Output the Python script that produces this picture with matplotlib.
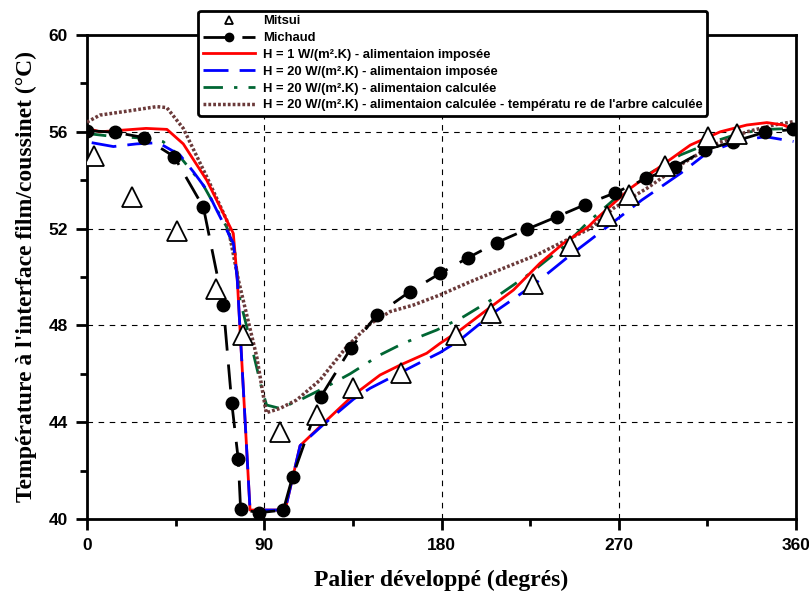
import matplotlib
matplotlib.use("Agg")
import matplotlib.pyplot as plt
from matplotlib.ticker import MultipleLocator

mitsui_x = [3.5, 22.9, 45.7, 65.5, 79.4, 98, 116.6, 135.3, 159.3, 187.4, 205, 226.7, 245, 263.9, 275, 293.6, 315.5, 329.9]
mitsui_y = [55.0, 53.3, 51.9, 49.5, 47.6, 43.6, 44.3, 45.4, 46.05, 47.6, 48.5, 49.7, 51.3, 52.5, 53.4, 54.6, 55.8, 55.9]

michaud_x = [0, 14.2, 29, 44.3, 59.1, 69.2, 73.5, 76.8, 78, 87.5, 99.7, 104.4, 118.7, 133.9, 147.1,
             164, 179.3, 193.6, 208, 223.3, 238.6, 252.9, 268.2, 283.9, 298.6, 313.9, 328.2, 344, 358.7]
michaud_y = [56.05, 55.98, 55.76, 54.97, 52.88, 48.84, 44.8, 42.47, 40.4, 40.26, 40.37, 41.75, 45.05, 47.05, 48.43,
             49.4, 50.15, 50.8, 51.42, 51.97, 52.49, 52.99, 53.48, 54.07, 54.56, 55.25, 55.59, 55.98, 56.1]

h1_x = [0, 6.6, 23.4, 30, 40.6, 48.9, 60.8, 74.3, 76.3, 82.8, 100.6, 108.2, 120, 135.3, 148.8, 159, 172.5,
        179.3, 189.4, 203, 216.5, 230, 241.9, 254.6, 258.8, 275.8, 291, 306.3, 321.5, 335, 345.2, 353.6, 358.7]
h1_y = [56.14, 56.0, 56.1, 56.14, 56.1, 55.5, 54.0, 51.8, 49.9, 40.37, 40.37, 43.03, 43.95, 45.12, 45.95, 46.36, 46.85,
        47.26, 47.8, 48.64, 49.46, 50.57, 51.39, 52.08, 52.42, 53.66, 54.56, 55.45, 56.0, 56.28, 56.38, 56.28, 56.1]

h20_x = [2.4, 13.4, 25.2, 36.2, 47.2, 54, 60.8, 65.8, 74.3, 76.3, 82.8, 100.6, 108.2, 120, 135.3, 143.7, 169,
         179.3, 189.4, 206, 226.7, 245.3, 255.5, 281.7, 301.5, 314.7, 329.9, 344.3, 358.7]
h20_y = [55.55, 55.39, 55.5, 55.55, 55.04, 54.35, 53.6, 52.77, 51.4, 49.9, 40.37, 40.37, 43.03, 43.9, 44.95, 45.4, 46.46,
         46.88, 47.4, 48.5, 49.67, 50.9, 51.53, 53.18, 54.29, 55.12, 55.6, 55.8, 55.6]

calc_x = [0, 11.7, 30.3, 38.7, 47.2, 59, 70.9, 75.2, 77.7, 82.8, 88.7, 91.2, 98, 108.2, 121.7, 133.6, 148.8,
          160.6, 177.6, 191.2, 208, 225, 241.9, 253.8, 267.3, 284.2, 301.2, 318, 331.6, 345.2, 358.7]
calc_y = [55.93, 55.82, 55.73, 55.59, 54.97, 53.8, 52.07, 50.98, 49.05, 47.4, 45.4, 44.71, 44.57, 44.92, 45.47, 46.0, 46.78,
          47.26, 47.81, 48.36, 49.19, 50.15, 51.25, 52.22, 53.18, 54.21, 55.04, 55.59, 55.94, 56.1, 56.14]

arbre_x = [0, 6.6, 21.8, 35.4, 40.5, 48.9, 60.8, 70.9, 76.8, 86.2, 91, 98, 106.5, 118.3, 131.9, 143.7, 153.9,
           165.7, 179.3, 194.5, 211.4, 228.3, 245.3, 255.5, 267.3, 284.2, 301.2, 318, 335, 348.6, 358.7]
arbre_y = [56.4, 56.69, 56.87, 57.04, 57.0, 56.14, 54.14, 52.36, 49.9, 46.7, 44.39, 44.57, 44.92, 45.74, 47.12, 48.06, 48.57,
           48.84, 49.26, 49.8, 50.36, 50.91, 51.6, 52.0, 52.84, 53.66, 54.63, 55.45, 56.0, 56.28, 56.42]

labels = ["Mitsui", "Michaud",
          "H = 1 W/(m².K) - alimentaion imposée",
          "H = 20 W/(m².K) - alimentaion imposée",
          "H = 20 W/(m².K) - alimentaion calculée",
          "H = 20 W/(m².K) - alimentaion calculée - températu re de l'arbre calculée"]
xlabel = "Palier développé (degrés)"
ylabel = "Température à l'interface film/coussinet (°C)"

fig = plt.figure(figsize=(8.09, 5.93), dpi=100)
ax = fig.add_axes([0.1075, 0.1248, 0.8765, 0.8162])

l_mit, = ax.plot(mitsui_x, mitsui_y, linestyle="none", marker="^", markersize=15,
                 markerfacecolor="white", markeredgecolor="black", markeredgewidth=1.3, zorder=6)
l_mic, = ax.plot(michaud_x, michaud_y, color="black", lw=2, marker="o", markersize=9,
                 dashes=(9, 5), zorder=5)
l_h1, = ax.plot(h1_x, h1_y, color="#ff0000", lw=2, zorder=4)
l_h20, = ax.plot(h20_x, h20_y, color="#0000ff", lw=2, dashes=(9, 4), zorder=4.5)
l_calc, = ax.plot(calc_x, calc_y, color="#006633", lw=2, dashes=(7, 4, 1.2, 4), zorder=3)
l_arb, = ax.plot(arbre_x, arbre_y, color="#6b3a3a", lw=2.5, dashes=(0.8, 0.6), zorder=3)

ax.set_xlim(0, 360)
ax.set_ylim(40, 60)
ax.xaxis.set_major_locator(MultipleLocator(90))
ax.xaxis.set_minor_locator(MultipleLocator(45))
ax.yaxis.set_major_locator(MultipleLocator(4))
ax.yaxis.set_minor_locator(MultipleLocator(2))
ax.grid(True, which="major", color="black", linestyle=(0, (5, 5)), lw=0.8)
for s in ax.spines.values():
    s.set_linewidth(2)
ax.tick_params(which="major", length=8, width=2, direction="out", pad=6)
ax.tick_params(which="minor", length=5, width=2, direction="out")
for lab in ax.get_xticklabels() + ax.get_yticklabels():
    lab.set_fontfamily(["Liberation Sans Narrow", "Liberation Sans", "DejaVu Sans"])
    lab.set_fontweight("bold")
    lab.set_fontsize(12.5)

ax.set_xlabel(xlabel, family="Liberation Serif", fontweight="bold", fontsize=17, labelpad=12)
ax.set_ylabel(ylabel, family="Liberation Serif", fontweight="bold", fontsize=17, labelpad=8)

leg = ax.legend([l_mit, l_mic, l_h1, l_h20, l_calc, l_arb], labels,
                loc="upper left", bbox_to_anchor=(0.148, 1.064),
                prop={"family": "Liberation Sans", "weight": "bold", "size": 9.4},
                handlelength=4.0, labelspacing=0.36, borderpad=0.35, handletextpad=0.6,
                fancybox=True, framealpha=1, edgecolor="black")
leg.get_frame().set_linewidth(2)
leg.set_zorder(10)
leg.legend_handles[0].set_markersize(6)
leg.legend_handles[1].set_markersize(6)

fig.savefig("out.png", dpi=100)
